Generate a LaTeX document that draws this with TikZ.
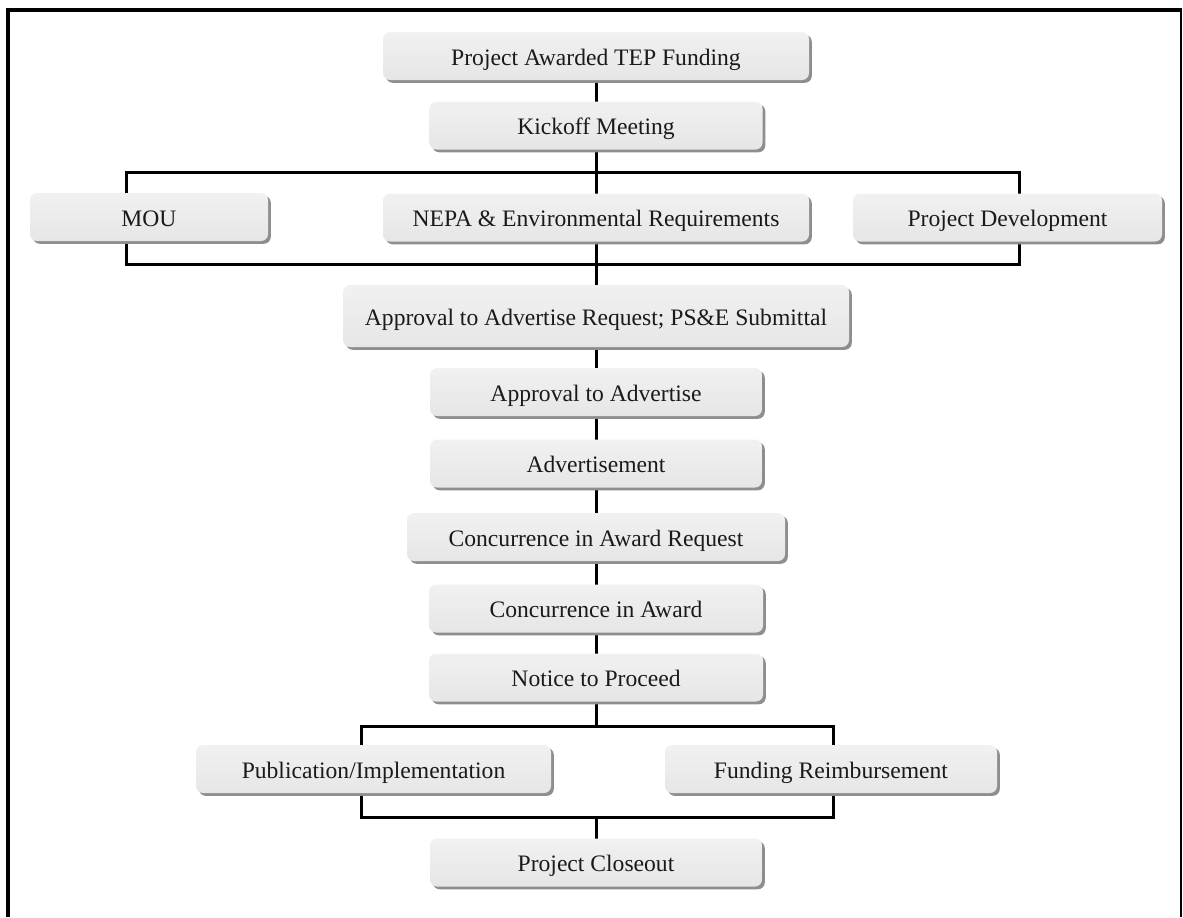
\documentclass[tikz,border=0pt]{standalone}
\usepackage{fontspec}
\setmainfont{Liberation Serif}
\usetikzlibrary{shadows,backgrounds}
\definecolor{boxtop}{HTML}{F1F1F1}
\definecolor{boxbot}{HTML}{E6E6E6}
\definecolor{shadowgray}{HTML}{8E8E8E}
\definecolor{txt}{HTML}{1A1A1A}
\begin{document}
\begin{tikzpicture}[x=0.5pt,y=-0.5pt,
  stepbox/.style={rounded corners=3.5pt, top color=boxtop, bottom color=boxbot, draw=none,
    inner sep=0pt, anchor=center, minimum height=24pt, text=txt,
    text height=1.16em, text depth=0.25em,
    font=\fontsize{11.8}{14}\selectfont,
    drop shadow={shadow xshift=1.4pt, shadow yshift=-1.4pt, fill=shadowgray, opacity=1}},
  bus/.style={line width=1.5pt, line cap=rect, line join=miter},
  frame/.style={line cap=butt, line join=miter}]
\useasboundingbox (0,0) rectangle (1183,917);
% frame
\draw[frame, line width=2pt] (8,917) -- (8,10) -- (1182,10);
\draw[frame, line width=1pt] (1181,10) -- (1181,917);
% boxes
\node[stepbox, minimum width=0.5pt*426] (fund) at (596,56) {Project Awarded TEP Funding};
\node[stepbox, minimum width=0.5pt*333] (kick) at (596,125.5) {Kickoff Meeting};
\node[stepbox, minimum width=0.5pt*238] (mou) at (149,217) {MOU};
\node[stepbox, minimum width=0.5pt*426] (nepa) at (596,217.5) {NEPA \& Environmental Requirements};
\node[stepbox, minimum width=0.5pt*309] (pd) at (1007.5,217.5) {Project Development};
\node[stepbox, minimum width=0.5pt*506, minimum height=31pt] (atar) at (596,316) {Approval to Advertise Request; PS\&E Submittal};
\node[stepbox, minimum width=0.5pt*332] (ata) at (596,392) {Approval to Advertise};
\node[stepbox, minimum width=0.5pt*332] (adv) at (596,463.5) {Advertisement};
\node[stepbox, minimum width=0.5pt*378] (ciar) at (596,537) {Concurrence in Award Request};
\node[stepbox, minimum width=0.5pt*334] (cia) at (596,608.5) {Concurrence in Award};
\node[stepbox, minimum width=0.5pt*334] (ntp) at (596,677.5) {Notice to Proceed};
\node[stepbox, minimum width=0.5pt*355] (pub) at (373.5,769) {Publication/Implementation};
\node[stepbox, minimum width=0.5pt*332] (fr) at (831,769) {Funding Reimbursement};
\node[stepbox, minimum width=0.5pt*332] (close) at (596,862.5) {Project Closeout};
% bus coordinates
\coordinate (s1) at (126,172);
\coordinate (s2) at (1019,172);
\coordinate (m1) at (126,264);
\coordinate (m2) at (1019,264);
\coordinate (n1) at (361,726);
\coordinate (n2) at (833,726);
\coordinate (j1) at (361,817);
\coordinate (j2) at (833,817);
\begin{scope}[on background layer]
  \draw[bus] (fund) -- (kick);
  \draw[bus] (kick) -- (atar);
  \draw[bus] (s1) -- (s2) -- (m2) -- (m1) -- cycle;
  \draw[bus] (atar) -- (ata);
  \draw[bus] (ata) -- (adv);
  \draw[bus] (adv) -- (ciar);
  \draw[bus] (ciar) -- (cia);
  \draw[bus] (cia) -- (ntp);
  \draw[bus] (ntp) -- (n1 -| ntp);
  \draw[bus] (n1) -- (n2) -- (j2) -- (j1) -- cycle;
  \draw[bus] (j1 -| close) -- (close);
\end{scope}
\end{tikzpicture}
\end{document}
